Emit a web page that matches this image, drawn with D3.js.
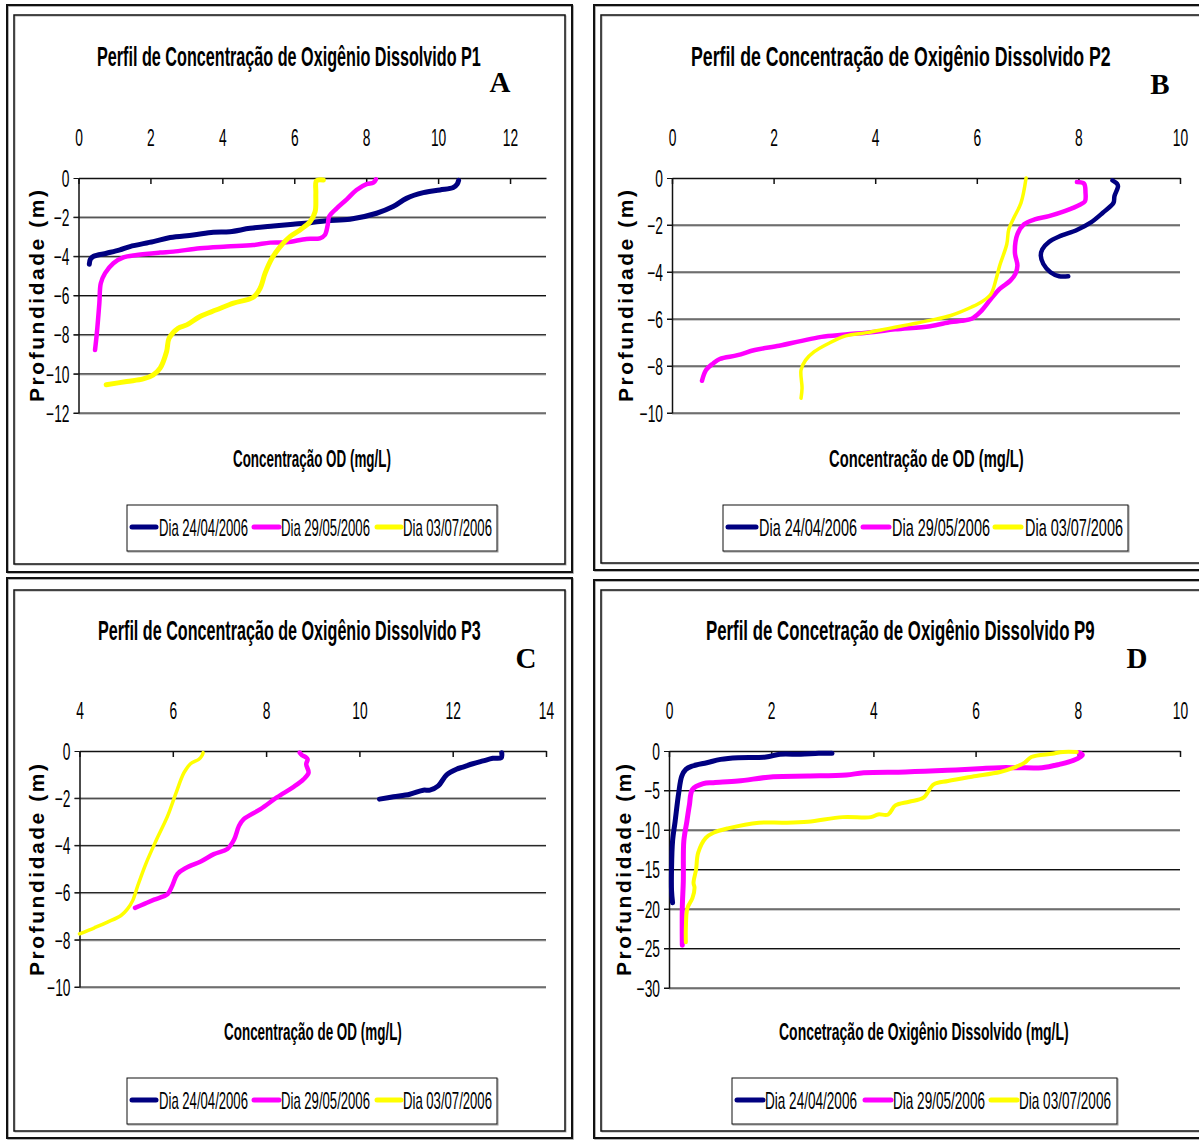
<!DOCTYPE html>
<html><head><meta charset="utf-8">
<script src="https://cdn.jsdelivr.net/npm/d3@7"></script>
<style>body{margin:0;background:#fff}svg{display:block}</style>
</head><body>
<svg id="c" width="1199" height="1141"></svg>
<script>
// ---------------- DATA ----------------
const legendLabels = ["Dia 24/04/2006", "Dia 29/05/2006", "Dia 03/07/2006"];
const seriesColors = ["#000080", "#FF00FF", "#FFFF00"];

const titles = [
  "Perfil de Concentração de Oxigênio Dissolvido P1",
  "Perfil de Concentração de Oxigênio Dissolvido P2",
  "Perfil de Concentração de Oxigênio Dissolvido P3",
  "Perfil de Concetração de Oxigênio Dissolvido P9"
];
const panelLetters = ["A", "B", "C", "D"];
const xTitles = [
  "Concentração OD (mg/L)",
  "Concentração de OD (mg/L)",
  "Concentração de OD (mg/L)",
  "Concetração de Oxigênio Dissolvido (mg/L)"
];
const yTitle = "Profundidade (m)";

const p1XTicks = [0, 2, 4, 6, 8, 10, 12];
const p1YTicks = [0, -2, -4, -6, -8, -10, -12];
const p2XTicks = [0, 2, 4, 6, 8, 10];
const p2YTicks = [0, -2, -4, -6, -8, -10];
const p3XTicks = [4, 6, 8, 10, 12, 14];
const p3YTicks = [0, -2, -4, -6, -8, -10];
const p9XTicks = [0, 2, 4, 6, 8, 10];
const p9YTicks = [0, -5, -10, -15, -20, -25, -30];

// [OD mg/L, depth m]
const p1_240406 = [[0.30,-4.40],[0.33,-4.15],[0.42,-4.00],[0.78,-3.84],[1.15,-3.67],[1.43,-3.50],[2.08,-3.25],[2.55,-3.04],[3.19,-2.91],[3.75,-2.77],[4.21,-2.74],[4.77,-2.57],[5.42,-2.45],[5.97,-2.36],[6.44,-2.28],[6.90,-2.18],[7.55,-2.11],[8.29,-1.80],[8.75,-1.46],[9.12,-1.04],[9.59,-0.75],[10.05,-0.61],[10.42,-0.49],[10.53,-0.31],[10.57,-0.12]];
const p1_290506 = [[0.46,-8.78],[0.51,-7.93],[0.58,-6.39],[0.62,-5.37],[0.74,-4.86],[0.97,-4.35],[1.25,-4.05],[1.62,-3.93],[2.27,-3.81],[2.64,-3.76],[3.38,-3.59],[4.12,-3.50],[4.86,-3.42],[5.33,-3.30],[5.79,-3.28],[6.34,-3.11],[6.71,-3.08],[6.85,-2.91],[6.93,-2.40],[6.97,-1.97],[7.18,-1.55],[7.46,-1.09],[7.73,-0.61],[8.01,-0.31],[8.20,-0.24],[8.27,-0.07]];
const p1_030706 = [[0.77,-10.56],[1.34,-10.39],[1.80,-10.26],[2.08,-10.05],[2.27,-9.71],[2.45,-8.86],[2.52,-8.18],[2.77,-7.67],[3.01,-7.50],[3.38,-7.07],[3.84,-6.73],[4.31,-6.39],[4.86,-6.09],[5.05,-5.63],[5.19,-4.86],[5.38,-4.10],[5.61,-3.50],[5.88,-2.99],[6.16,-2.65],[6.44,-2.23],[6.58,-1.72],[6.60,-0.78],[6.62,-0.14],[6.81,-0.10]];

const p2_240406 = [[8.67,-0.10],[8.76,-0.24],[8.78,-0.35],[8.71,-0.77],[8.69,-1.06],[8.48,-1.48],[8.24,-1.90],[7.97,-2.21],[7.62,-2.49],[7.42,-2.72],[7.29,-3.03],[7.26,-3.31],[7.31,-3.66],[7.45,-4.01],[7.62,-4.18],[7.80,-4.18]];
const p2_290506 = [[7.97,-0.17],[8.11,-0.24],[8.14,-0.63],[8.13,-0.99],[8.04,-1.13],[7.73,-1.41],[7.42,-1.62],[7.14,-1.76],[6.93,-1.97],[6.80,-2.39],[6.75,-3.17],[6.80,-3.73],[6.76,-4.08],[6.66,-4.37],[6.45,-4.72],[6.28,-5.14],[6.07,-5.70],[5.90,-5.99],[5.70,-6.08],[5.49,-6.13],[5.08,-6.31],[4.39,-6.44],[3.97,-6.55],[3.42,-6.66],[2.94,-6.76],[2.53,-6.94],[2.11,-7.14],[1.63,-7.32],[1.29,-7.54],[0.94,-7.70],[0.81,-7.89],[0.67,-8.17],[0.59,-8.63]];
const p2_030706 = [[6.97,0.00],[6.87,-1.06],[6.73,-1.69],[6.63,-2.18],[6.59,-2.82],[6.45,-3.73],[6.38,-4.30],[6.28,-4.93],[6.11,-5.25],[5.90,-5.49],[5.49,-5.85],[5.08,-6.06],[4.66,-6.24],[4.25,-6.41],[3.84,-6.58],[3.42,-6.72],[3.08,-7.04],[2.80,-7.39],[2.63,-7.75],[2.54,-8.17],[2.56,-8.94],[2.54,-9.37]];

const p3_240406 = [[10.43,-2.04],[10.73,-1.94],[11.08,-1.83],[11.37,-1.66],[11.51,-1.66],[11.69,-1.48],[11.87,-1.01],[12.08,-0.77],[12.22,-0.68],[12.43,-0.54],[12.65,-0.42],[12.86,-0.31],[13.04,-0.28],[13.05,-0.07]];
const p3_290506 = [[5.19,-6.65],[5.39,-6.48],[5.60,-6.30],[5.89,-6.06],[5.99,-5.70],[6.10,-5.21],[6.28,-4.96],[6.60,-4.68],[6.88,-4.37],[7.17,-4.15],[7.31,-3.77],[7.42,-3.17],[7.52,-2.89],[7.88,-2.46],[8.23,-1.97],[8.59,-1.52],[8.80,-1.20],[8.91,-0.92],[8.86,-0.56],[8.89,-0.35],[8.84,-0.25],[8.77,-0.18],[8.72,-0.07]];
const p3_030706 = [[4.00,-7.75],[4.32,-7.49],[4.60,-7.25],[4.89,-6.97],[5.03,-6.69],[5.14,-6.34],[5.25,-5.70],[5.42,-4.79],[5.64,-3.80],[5.89,-2.75],[6.06,-1.83],[6.24,-0.92],[6.38,-0.54],[6.56,-0.35],[6.63,-0.18],[6.65,-0.07]];

const p9_240406 = [[0.07,-19.2],[0.05,-17.7],[0.05,-14.8],[0.07,-11.4],[0.12,-8.9],[0.19,-5.3],[0.25,-3.17],[0.33,-2.32],[0.46,-1.90],[0.74,-1.48],[1.01,-1.06],[1.35,-0.84],[1.90,-0.76],[2.17,-0.42],[2.58,-0.42],[2.93,-0.30],[3.19,-0.30]];
const p9_290506 = [[0.26,-24.6],[0.26,-19.9],[0.28,-16.5],[0.29,-11.4],[0.35,-8.9],[0.40,-6.8],[0.46,-4.86],[0.67,-4.14],[0.87,-4.01],[1.35,-3.80],[2.04,-3.25],[2.72,-3.17],[3.47,-3.04],[3.81,-2.75],[4.63,-2.66],[5.45,-2.45],[6.14,-2.20],[6.48,-2.11],[6.82,-2.11],[7.30,-2.11],[7.64,-1.69],[7.92,-1.18],[8.09,-0.51],[8.02,-0.21]];
const p9_030706 = [[0.33,-24.2],[0.33,-22.4],[0.36,-19.9],[0.46,-18.6],[0.50,-17.3],[0.48,-16.7],[0.53,-15.0],[0.57,-12.9],[0.72,-11.0],[0.87,-10.35],[1.15,-9.80],[1.76,-9.08],[2.24,-9.08],[2.72,-8.96],[3.40,-8.37],[3.95,-8.37],[4.09,-8.03],[4.29,-8.03],[4.43,-6.89],[4.70,-6.42],[4.98,-5.91],[5.18,-4.22],[5.46,-3.80],[5.93,-3.25],[6.48,-2.66],[6.75,-2.11],[6.96,-1.48],[7.09,-0.76],[7.50,-0.34],[7.71,-0.13],[7.98,-0.13]];

// ---------------- LAYOUT ----------------
const panels = [
  { series:[p1_240406,p1_290506,p1_030706], xTicks:p1XTicks, yTicks:p1YTicks, xDomain:[0,13], yMin:-12,
    px:[78.5,546], py:[178,413], widths:[5,4.5,5],
    outer:[7,5,572,572], inner:[14,15,565,564],
    title:[97,66,384], letter:[500,92], xTitle:[233,467,158], yTitleX:44, yTitleY:296,
    legend:{box:[127,505,497,551], lines:[[132,156],[254,279],[377,401]], texts:[159,281,403], tw:89} },
  { series:[p2_240406,p2_290506,p2_030706], xTicks:p2XTicks, yTicks:p2YTicks, xDomain:[0,10], yMin:-10,
    px:[672,1180], py:[178,413], widths:[4.5,4.5,3.5],
    outer:[594,5,1210,570], inner:[601,15,1205,563],
    title:[691,66,420], letter:[1160,94], xTitle:[829,467,195], yTitleX:633, yTitleY:296,
    legend:{box:[723,505,1128,551], lines:[[728,756],[863,889],[995,1021]], texts:[759,892,1025], tw:98} },
  { series:[p3_240406,p3_290506,p3_030706], xTicks:p3XTicks, yTicks:p3YTicks, xDomain:[4,14], yMin:-10,
    px:[79.5,546], py:[751,987], widths:[5,4.5,3.5],
    outer:[7,578,572,1138], inner:[14,590,565,1131],
    title:[98,640,383], letter:[526,668], xTitle:[224,1040,178], yTitleX:44, yTitleY:870,
    legend:{box:[127,1078,497,1124], lines:[[132,156],[254,279],[377,401]], texts:[159,281,403], tw:89} },
  { series:[p9_240406,p9_290506,p9_030706], xTicks:p9XTicks, yTicks:p9YTicks, xDomain:[0,10], yMin:-30,
    px:[669,1180], py:[751,988], widths:[5,5,4],
    outer:[594,580,1210,1138], inner:[601,590,1205,1131],
    title:[706,640,389], letter:[1137,668], xTitle:[779,1040,290], yTitleX:631, yTitleY:870,
    legend:{box:[732,1078,1117,1124], lines:[[737,763],[865,891],[991,1017]], texts:[765,893,1019], tw:92} }
];

const svg = d3.select("#c");
svg.append("rect").attr("width",1199).attr("height",1141).attr("fill","#fff");

const NARROW = "'Liberation Sans', Arial, sans-serif";
const TICK_SX = 0.6;

// draws text compressed horizontally to an exact width
function fitText(g, x, y, str, len, size, weight) {
  const t = g.append("text").attr("x", 0).attr("y", 0)
    .attr("font-family", NARROW).attr("font-size", size).attr("font-weight", weight)
    .attr("fill", "#000").text(str);
  const w = t.node().getComputedTextLength() || len;
  t.attr("transform", `translate(${x},${y}) scale(${len / w},1)`);
  return t;
}

panels.forEach((p, i) => {
  const g = svg.append("g");
  // frames
  const [ox1, oy1, ox2, oy2] = p.outer;
  g.append("rect").attr("x", ox1 + 1).attr("y", oy1 + 1).attr("width", ox2 - ox1).attr("height", oy2 - oy1)
    .attr("fill", "none").attr("stroke", "#999").attr("stroke-width", 1.5);
  g.append("rect").attr("x", ox1).attr("y", oy1).attr("width", ox2 - ox1).attr("height", oy2 - oy1)
    .attr("fill", "none").attr("stroke", "#111").attr("stroke-width", 2);
  const [ix1, iy1, ix2, iy2] = p.inner;
  g.append("rect").attr("x", ix1 + 1).attr("y", iy1 + 1).attr("width", ix2 - ix1).attr("height", iy2 - iy1)
    .attr("fill", "none").attr("stroke", "#aaa").attr("stroke-width", 1);
  g.append("rect").attr("x", ix1).attr("y", iy1).attr("width", ix2 - ix1).attr("height", iy2 - iy1)
    .attr("fill", "none").attr("stroke", "#111").attr("stroke-width", 1.5);

  const x = d3.scaleLinear().domain(p.xDomain).range(p.px);
  const y = d3.scaleLinear().domain([0, p.yMin]).range(p.py);

  // gridlines
  const grid = g.append("g");
  p.yTicks.filter(t => t !== 0).forEach(t => {
    grid.append("line").attr("x1", p.px[0]).attr("x2", p.px[1]).attr("y1", y(t) + 1).attr("y2", y(t) + 1)
      .attr("stroke", "#999").attr("stroke-width", 1);
    grid.append("line").attr("x1", p.px[0] - 5).attr("x2", p.px[1]).attr("y1", y(t)).attr("y2", y(t))
      .attr("stroke", "#111").attr("stroke-width", 1);
  });

  // x axis on top (at depth 0)
  const xa = g.append("g").attr("transform", `translate(0,${y(0)})`)
    .call(d3.axisTop(x).tickValues(p.xTicks).tickSizeInner(-6).tickSizeOuter(0).tickPadding(32).tickFormat(d3.format("d")));
  xa.select(".domain").attr("stroke", "#111").attr("stroke-width", 1.5);
  xa.selectAll(".tick line").attr("stroke", "#111").attr("stroke-width", 1.5);
  xa.selectAll("text").attr("font-family", NARROW).attr("font-size", 23).attr("fill", "#000")
    .attr("transform", `scale(${TICK_SX},1)`);

  // y axis
  const ya = g.append("g").attr("transform", `translate(${p.px[0]},0)`)
    .call(d3.axisLeft(y).tickValues(p.yTicks).tickSizeInner(5).tickSizeOuter(0).tickFormat(d3.format("d")));
  ya.select(".domain").attr("stroke", "#111").attr("stroke-width", 1.5);
  ya.selectAll(".tick line").attr("stroke", "#111").attr("stroke-width", 1);
  ya.selectAll("text").attr("font-family", NARROW).attr("font-size", 23).attr("fill", "#000")
    .attr("x", -9 / TICK_SX).attr("dy", "0.36em")
    .attr("transform", `scale(${TICK_SX},1)`);

  // series
  const line = d3.line().x(d => x(d[0])).y(d => y(d[1])).curve(d3.curveCatmullRom.alpha(0.5));
  p.series.forEach((s, k) => {
    g.append("path").datum(s).attr("d", line).attr("fill", "none")
      .attr("stroke", seriesColors[k]).attr("stroke-width", p.widths[k])
      .attr("stroke-linecap", "round").attr("stroke-linejoin", "round");
  });

  // titles
  fitText(g, p.title[0], p.title[1], titles[i], p.title[2], 28, "bold");
  g.append("text").attr("x", p.letter[0]).attr("y", p.letter[1]).attr("text-anchor", "middle")
    .attr("font-family", "'Liberation Serif', 'Times New Roman', serif").attr("font-weight", "bold")
    .attr("font-size", 29).attr("fill", "#000").text(panelLetters[i]);
  fitText(g, p.xTitle[0], p.xTitle[1], xTitles[i], p.xTitle[2], 23, "bold");
  g.append("text").attr("transform", `translate(${p.yTitleX},${p.yTitleY}) rotate(-90)`)
    .attr("x", -106).attr("y", 0)
    .attr("font-family", NARROW).attr("font-size", 21).attr("font-weight", "bold")
    .attr("textLength", 212).attr("lengthAdjust", "spacing").attr("fill", "#000").text(yTitle);

  // legend
  const L = p.legend;
  const [bx1, by1, bx2, by2] = L.box;
  g.append("rect").attr("x", bx1 + 1).attr("y", by1 + 1).attr("width", bx2 - bx1).attr("height", by2 - by1)
    .attr("fill", "none").attr("stroke", "#999").attr("stroke-width", 1);
  g.append("rect").attr("x", bx1).attr("y", by1).attr("width", bx2 - bx1).attr("height", by2 - by1)
    .attr("fill", "#fff").attr("stroke", "#111").attr("stroke-width", 1);
  const cy = (by1 + by2) / 2 - 1;
  legendLabels.forEach((lab, k) => {
    g.append("line").attr("x1", L.lines[k][0]).attr("x2", L.lines[k][1]).attr("y1", cy).attr("y2", cy)
      .attr("stroke", seriesColors[k]).attr("stroke-width", 5).attr("stroke-linecap", "round");
    fitText(g, L.texts[k], cy + 8.5, lab, L.tw, 24, "normal");
  });
});
</script>
</body></html>
